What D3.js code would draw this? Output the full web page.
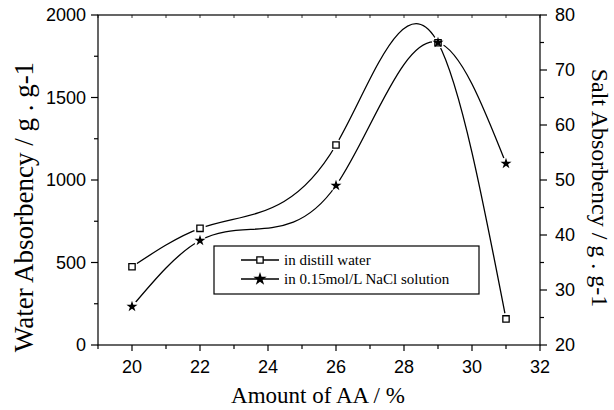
<!DOCTYPE html>
<html>
<head>
<meta charset="utf-8">
<script src="https://cdn.jsdelivr.net/npm/d3@7"></script>
<style>
html,body{margin:0;padding:0;background:#fff;}
svg{display:block;}
</style>
</head>
<body>
<svg id="chart" width="614" height="410"></svg>
<script>
// ---- data ----
const xValues = [20, 22, 26, 29, 31];
const waterAbs = [474, 707, 1212, 1832, 158];
const saltAbs = [27, 39, 49, 75, 53];
const xTicks = [20, 22, 24, 26, 28, 30, 32];
const yLeftTicks = [0, 500, 1000, 1500, 2000];
const yRightTicks = [20, 30, 40, 50, 60, 70, 80];
const legendLabels = ["in distill water", "in 0.15mol/L NaCl solution"];
const xTitle = "Amount of AA / %";
const yLeftTitle = "Water Absorbency / g . g-1";
const yRightTitle = "Salt Absorbency / g . g-1";

// natural cubic spline in x (function of x), as a d3 curve factory
function NaturalX(context) { this._context = context; }
NaturalX.prototype = {
  areaStart() { this._line = 0; },
  areaEnd() { this._line = NaN; },
  lineStart() { this._xs = []; this._ys = []; },
  point(px, py) { this._xs.push(+px); this._ys.push(+py); },
  lineEnd() {
    const X = this._xs, Y = this._ys, n = X.length, c = this._context;
    if (!n) return;
    c.moveTo(X[0], Y[0]);
    if (n === 1) return;
    const h = [], d = [];
    for (let i = 0; i < n - 1; i++) { h.push(X[i + 1] - X[i]); d.push((Y[i + 1] - Y[i]) / h[i]); }
    const M = new Array(n).fill(0);
    if (n > 2) {
      const m = n - 2, a = [], b = [], cc = [], r = [];
      for (let k = 0; k < m; k++) {
        const i = k + 1;
        a.push(h[i - 1]); b.push(2 * (h[i - 1] + h[i])); cc.push(h[i]);
        r.push(6 * (d[i] - d[i - 1]));
      }
      for (let k = 1; k < m; k++) {
        const w = a[k] / b[k - 1];
        b[k] -= w * cc[k - 1]; r[k] -= w * r[k - 1];
      }
      const sol = new Array(m);
      sol[m - 1] = r[m - 1] / b[m - 1];
      for (let k = m - 2; k >= 0; k--) sol[k] = (r[k] - cc[k] * sol[k + 1]) / b[k];
      for (let k = 0; k < m; k++) M[k + 1] = sol[k];
    }
    for (let i = 0; i < n - 1; i++) {
      const s0 = d[i] - h[i] * (2 * M[i] + M[i + 1]) / 6;
      const s1 = d[i] + h[i] * (M[i] + 2 * M[i + 1]) / 6;
      c.bezierCurveTo(X[i] + h[i] / 3, Y[i] + s0 * h[i] / 3,
                      X[i + 1] - h[i] / 3, Y[i + 1] - s1 * h[i] / 3,
                      X[i + 1], Y[i + 1]);
    }
  }
};
const curveNaturalX = ctx => new NaturalX(ctx);

const svg = d3.select("#chart");
const L = 98, R = 540, T = 15, B = 345;
const x = d3.scaleLinear().domain([19, 32]).range([L, R]);
const yL = d3.scaleLinear().domain([0, 2000]).range([B, T]);
const yR = d3.scaleLinear().domain([20, 80]).range([B, T]);

const tickFont = "'Liberation Sans', Arial, sans-serif";
const serif = "'Liberation Serif', 'Times New Roman', serif";

// frame
const axisG = svg.append("g").attr("stroke", "#000").attr("stroke-width", 1.2).attr("fill", "none");
axisG.append("rect").attr("x", L).attr("y", T).attr("width", R - L).attr("height", B - T);

// bottom axis ticks
const xMinor = d3.range(19, 33, 1);
xMinor.forEach(v => {
  const major = xTicks.includes(v);
  axisG.append("line").attr("x1", x(v)).attr("x2", x(v)).attr("y1", B).attr("y2", B + (major ? 6 : 4));
  axisG.append("line").attr("x1", x(v)).attr("x2", x(v)).attr("y1", T).attr("y2", T + 3).attr("stroke-width", 0.8);
});
svg.append("g").selectAll("text").data(xTicks).join("text")
  .attr("x", d => x(d)).attr("y", 373).attr("text-anchor", "middle")
  .attr("font-family", tickFont).attr("font-size", 18).text(d => d);

// left axis ticks
d3.range(0, 2001, 250).forEach(v => {
  const major = v % 500 === 0;
  axisG.append("line").attr("x1", L - (major ? 7 : 4)).attr("x2", L).attr("y1", yL(v)).attr("y2", yL(v));
});
svg.append("g").selectAll("text").data(yLeftTicks).join("text")
  .attr("x", 86).attr("y", d => yL(d)).attr("dy", "0.35em").attr("text-anchor", "end")
  .attr("font-family", tickFont).attr("font-size", 18).text(d => d);

// right axis ticks
d3.range(20, 81, 5).forEach(v => {
  const major = v % 10 === 0;
  axisG.append("line").attr("x1", R).attr("x2", R + (major ? 7 : 4)).attr("y1", yR(v)).attr("y2", yR(v));
});
svg.append("g").selectAll("text").data(yRightTicks).join("text")
  .attr("x", 555).attr("y", d => yR(d)).attr("dy", "0.35em").attr("text-anchor", "start")
  .attr("font-family", tickFont).attr("font-size", 18).text(d => d);

// titles
svg.append("text").attr("x", 318).attr("y", 403).attr("text-anchor", "middle")
  .attr("font-family", serif).attr("font-size", 23).text(xTitle);
svg.append("text").attr("transform", "translate(33,207) rotate(-90)").attr("text-anchor", "middle")
  .attr("font-family", serif).attr("font-size", 27).text(yLeftTitle);
svg.append("text").attr("transform", "translate(592,188) rotate(90)").attr("text-anchor", "middle")
  .attr("font-family", serif).attr("font-size", 24).text(yRightTitle);

// curves
const waterPts = xValues.map((v, i) => [x(v), yL(waterAbs[i])]);
const saltPts = xValues.map((v, i) => [x(v), yR(saltAbs[i])]);
const line = d3.line().curve(curveNaturalX);
const curves = svg.append("g").attr("fill", "none").attr("stroke", "#000").attr("stroke-width", 1.3);
curves.append("path").attr("d", line(waterPts));
curves.append("path").attr("d", line(saltPts));

// gaps around markers
const gaps = svg.append("g").attr("fill", "#fff");
waterPts.concat(saltPts).forEach(p => gaps.append("circle").attr("cx", p[0]).attr("cy", p[1]).attr("r", 6));

const sq = d3.symbol().type(d3.symbolSquare).size(40);
const st = d3.symbol().type(d3.symbolStar).size(38);
svg.append("g").selectAll("path").data(waterPts).join("path")
  .attr("transform", d => `translate(${d[0]},${d[1]})`).attr("d", sq())
  .attr("fill", "#fff").attr("stroke", "#000").attr("stroke-width", 1.3);
svg.append("g").selectAll("path").data(saltPts).join("path")
  .attr("transform", d => `translate(${d[0]},${d[1]})`).attr("d", st())
  .attr("fill", "#000");

// legend
const lg = svg.append("g");
lg.append("rect").attr("x", 214).attr("y", 246).attr("width", 265).attr("height", 48)
  .attr("fill", "#fff").attr("stroke", "#000").attr("stroke-width", 1.2);
const rows = [260, 279];
rows.forEach((ry, i) => {
  lg.append("line").attr("x1", 241).attr("x2", 279).attr("y1", ry).attr("y2", ry)
    .attr("stroke", "#000").attr("stroke-width", 1.3);
  lg.append("path").attr("transform", `translate(260,${ry})`)
    .attr("d", i === 0 ? sq() : d3.symbol().type(d3.symbolStar).size(55)())
    .attr("fill", i === 0 ? "#fff" : "#000").attr("stroke", i === 0 ? "#000" : "none").attr("stroke-width", 1.3);
  lg.append("text").attr("x", 284).attr("y", ry + 5).attr("font-family", serif).attr("font-size", 15)
    .text(legendLabels[i]);
});
</script>
</body>
</html>
